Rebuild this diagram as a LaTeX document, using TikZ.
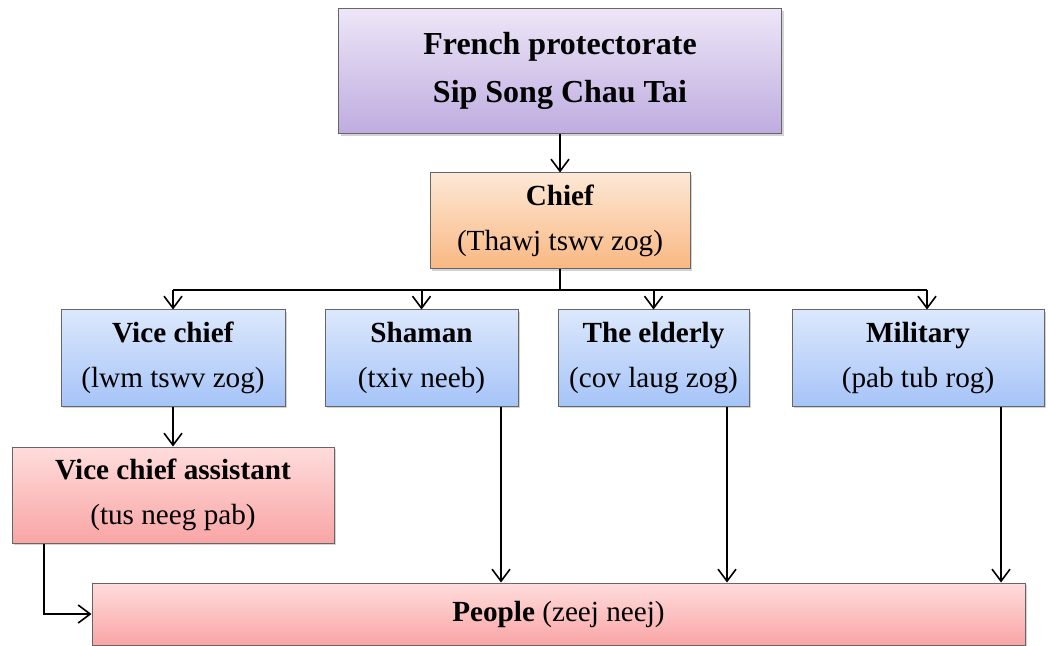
\documentclass[tikz,border=0pt]{standalone}
\usepackage{fontspec}
\setmainfont{Liberation Serif}
\usetikzlibrary{positioning,shadows,arrows.meta}
\definecolor{purtop}{RGB}{238,230,247}
\definecolor{purbot}{RGB}{190,172,224}
\definecolor{ortop}{RGB}{253,232,214}
\definecolor{orbot}{RGB}{249,184,130}
\definecolor{bltop}{RGB}{220,232,252}
\definecolor{blbot}{RGB}{166,196,248}
\definecolor{rdtop}{RGB}{255,220,220}
\definecolor{rdbot}{RGB}{249,165,165}

\tikzset{
  box/.style={draw=gray!80!black, line width=0.5pt, inner sep=0pt, align=center,
    font=\fontsize{14.6}{22.5}\selectfont,
    drop shadow={shadow xshift=1.2pt, shadow yshift=-1.2pt, opacity=0.35}},
  purbox/.style={box, top color=purtop, bottom color=purbot,
    font=\fontsize{16}{24}\selectfont},
  orbox/.style={box, top color=ortop, bottom color=orbot},
  blbox/.style={box, top color=bltop, bottom color=blbot},
  rdbox/.style={box, top color=rdtop, bottom color=rdbot},
  link/.style={line width=1pt, -{Straight Barb[length=6pt,width=9pt,line width=0.8pt]}}
}

\begin{document}
\begin{tikzpicture}[x=0.5pt,y=-0.5pt]
\useasboundingbox (0,0) rectangle (1048,646);

\node[purbox, minimum width=221.5pt, minimum height=62.5pt] (french) at (560,71)
  {\textbf{French protectorate}\\\textbf{Sip Song Chau Tai}};
\node[orbox, minimum width=130pt, minimum height=48pt] (chief) at (560,221)
  {\textbf{Chief}\\(Thawj tswv zog)};

\node[blbox, minimum width=112pt, minimum height=48pt] (vice) at (173,358)
  {\textbf{Vice chief}\\(lwm tswv zog)};
\node[blbox, minimum width=96.5pt, minimum height=48pt] (shaman) at (421.5,358)
  {\textbf{Shaman}\\(txiv neeb)};
\node[blbox, minimum width=95.5pt, minimum height=48pt] (elderly) at (653.5,358)
  {\textbf{The elderly}\\(cov laug zog)};
\node[blbox, minimum width=126pt, minimum height=48pt] (military) at (918,358)
  {\textbf{Military}\\(pab tub rog)};

\node[rdbox, minimum width=161pt, minimum height=48pt] (assist) at (173,495)
  {\textbf{Vice chief assistant}\\(tus neeg pab)};
\node[rdbox, minimum width=466.5pt, minimum height=31pt] (people) at (558.5,614)
  {\textbf{People} (zeej neej)};

% top of the tree
\draw[link] (french) -- (chief);
\coordinate (bus) at (560,290);
\draw[line width=1pt] (chief.south) -- (bus);
\draw[line width=1pt] (173,290) -- (927,290);
\draw[link] (173,290) -- (vice.north);
\draw[link] (421.5,290) -- (shaman.north);
\draw[link] (653.5,290) -- (elderly.north);
\draw[link] (927,290) -- (927,0 |- military.north);

% down to the people
\draw[link] (vice) -- (assist);
\draw[link] (assist.south west) ++(32,0) |- (people.west);
\draw[link] (501,0 |- shaman.south) -- (501,0 |- people.north);
\draw[link] (727,0 |- elderly.south) -- (727,0 |- people.north);
\draw[link] (1001,0 |- military.south) -- (1001,0 |- people.north);
\end{tikzpicture}
\end{document}
